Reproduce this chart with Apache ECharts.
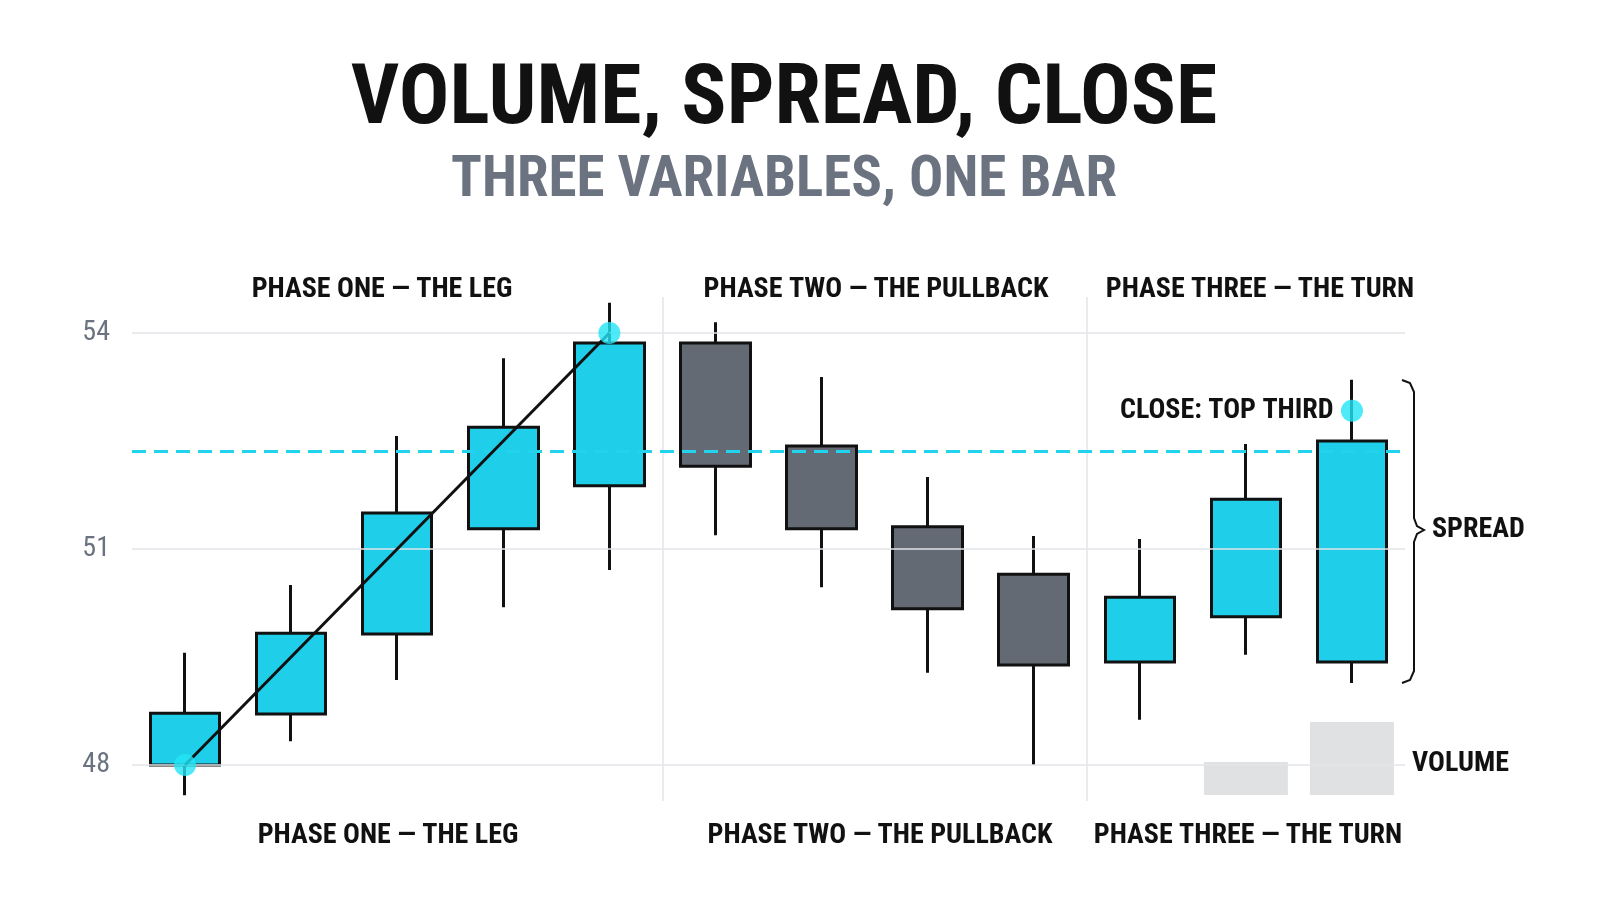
<!DOCTYPE html>
<html><head><meta charset="utf-8">
<script src="https://cdn.jsdelivr.net/npm/echarts@6/dist/echarts.min.js"></script>
<style>html,body{margin:0;background:#fff}#c{width:1600px;height:914px}</style>
</head><body><div id="c"></div>
<script>
const categories = ['1','2','3','4','5','6','7','8','9','10','11','12'];
// [open, close, low, high]
const candles = [
 [48.0,48.72,47.58,49.56],[48.71,49.83,48.33,50.5],[49.82,51.5,49.18,52.57],
 [51.28,52.69,50.19,53.65],[51.88,53.86,50.71,54.42],[53.86,52.15,51.19,54.15],
 [52.43,51.28,50.47,53.39],[51.31,50.17,49.28,52.0],[50.65,49.39,48.0,51.18],
 [49.43,50.33,48.63,51.14],[50.06,51.69,49.53,52.46],[49.43,52.5,49.14,53.35]
];
const legLine = [48.0,null,null,null,54.0,null,null,null,null,null,null,null];
const closeDots = [[0,48.0],[4,54.0],[11,52.92]];
const volume = [null,null,null,null,null,null,null,null,null,null,33,73];
const yTicks = [48,51,54];
const closeLevel = 52.36;
const phaseBounds = [4.5,8.5];
const F = '"Liberation Sans Narrow","Roboto Condensed",Roboto,sans-serif';
function txt(t,x,y,size,color,align){
 return {type:'text',x:x,y:y,style:{text:t,font:'bold '+size+'px '+F,fill:color||'#111',align:align||'center',verticalAlign:'middle'}};
}
const chart = echarts.init(document.getElementById('c'));
chart.setOption({
 animation:false,
 grid:[{left:132,right:195,top:297,height:504},{left:132,right:195,top:715,bottom:119}],
 xAxis:[
  {type:'category',data:categories,show:false,gridIndex:0},
  {type:'value',min:-0.5,max:11.5,show:false,gridIndex:0},
  {type:'category',data:categories,show:false,gridIndex:1}
 ],
 yAxis:[
  {type:'value',min:47.5,max:54.5,show:false,gridIndex:0},
  {type:'value',min:0,max:80,show:false,gridIndex:1}
 ],
 graphic:[
  txt('VOLUME, SPREAD, CLOSE',784,102,84),
  txt('THREE VARIABLES, ONE BAR',784,182,57,'#6b7280'),
  txt('PHASE ONE — THE LEG',382,290,28),
  txt('PHASE TWO — THE PULLBACK',876,290,28),
  txt('PHASE THREE — THE TURN',1260,290,28),
  txt('PHASE ONE — THE LEG',388,836,28),
  txt('PHASE TWO — THE PULLBACK',880,836,28),
  txt('PHASE THREE — THE TURN',1248,836,28),
  txt('CLOSE: TOP THIRD',1120,411,28,'#111','left'),
  txt('SPREAD',1432,530,28,'#111','left'),
  txt('VOLUME',1412,764,28,'#111','left'),
  {type:'polyline',shape:{points:[[1402,380],[1410,383],[1414,392],[1414,518],[1417,526],[1424,530],[1417,534],[1414,542],[1414,671],[1410,680],[1402,683]]},style:{stroke:'#111',lineWidth:2,fill:null}}
 ],
 series:[
  {type:'line',xAxisIndex:1,yAxisIndex:0,data:[],silent:true,
   markLine:{symbol:'none',silent:true,data:[
     ...yTicks.map(v=>({yAxis:v,lineStyle:{color:'#e3e5e8',width:1.5,type:'solid'},label:{show:true,position:'start',formatter:String(v),color:'#6b7280',fontSize:28,fontFamily:F,distance:22}})),
     ...phaseBounds.map(v=>({xAxis:v,lineStyle:{color:'#e3e5e8',width:1.5,type:'solid'},label:{show:false}}))
   ]}},
  {type:'bar',xAxisIndex:2,yAxisIndex:1,data:volume,barWidth:84,itemStyle:{color:'#dfe1e3'},silent:true},
  {type:'candlestick',xAxisIndex:0,yAxisIndex:0,data:candles,barWidth:70,
   itemStyle:{color:'#1fcfea',color0:'#646a73',borderColor:'#111',borderColor0:'#111',borderWidth:3},
   markLine:{symbol:'none',silent:true,data:[{yAxis:closeLevel}],lineStyle:{color:'#22d3ee',width:3,type:[14,8]},label:{show:false}}},
  {type:'line',xAxisIndex:0,yAxisIndex:0,data:legLine,connectNulls:true,symbol:'none',lineStyle:{color:'#111',width:3},z:5},
  {type:'scatter',xAxisIndex:1,yAxisIndex:0,data:closeDots,symbolSize:22,itemStyle:{color:'#22e5f5'},z:6}
 ]
});
</script></body></html>
